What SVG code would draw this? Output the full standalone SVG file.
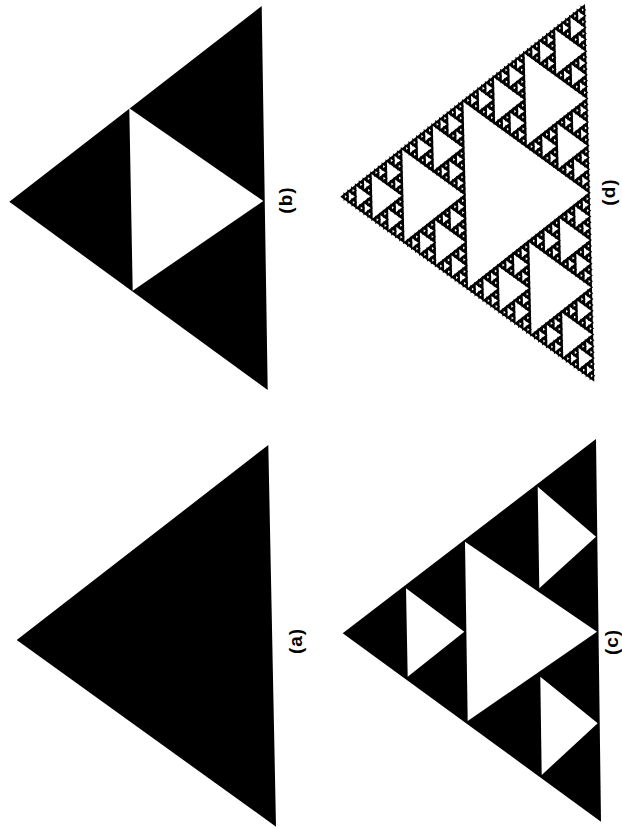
<svg xmlns="http://www.w3.org/2000/svg" width="622" height="829" viewBox="0 0 622 829">
<style>
.blk{fill:#000}
.wht{fill:#fff}
.hole{fill:#fff;stroke:#000;stroke-width:1.4;vector-effect:non-scaling-stroke;stroke-linejoin:miter}
.lbl{font-family:"Liberation Sans",Arial,sans-serif;font-weight:bold;font-size:19px;fill:#000;text-anchor:middle;dominant-baseline:central;letter-spacing:1px}
</style>
<defs>
<path id="h" class="hole" d="M.5 0L0 .5L.5 .5Z"/>
<g id="L2"><use href="#h"/><use href="#h" transform="scale(.5)"/><use href="#h" transform="translate(.5 0) scale(.5)"/><use href="#h" transform="translate(0 .5) scale(.5)"/></g>
<g id="L3"><use href="#h"/><use href="#L2" transform="scale(.5)"/><use href="#L2" transform="translate(.5 0) scale(.5)"/><use href="#L2" transform="translate(0 .5) scale(.5)"/></g>
<g id="L4"><use href="#h"/><use href="#L3" transform="scale(.5)"/><use href="#L3" transform="translate(.5 0) scale(.5)"/><use href="#L3" transform="translate(0 .5) scale(.5)"/></g>
<g id="L5"><use href="#h"/><use href="#L4" transform="scale(.5)"/><use href="#L4" transform="translate(.5 0) scale(.5)"/><use href="#L4" transform="translate(0 .5) scale(.5)"/></g>
<g id="L6"><use href="#h"/><use href="#L5" transform="scale(.5)"/><use href="#L5" transform="translate(.5 0) scale(.5)"/><use href="#L5" transform="translate(0 .5) scale(.5)"/></g>
</defs>
<rect width="622" height="829" fill="#fff"/>
<g id="panel-a">
<path class="blk" d="M16.7 640L268.3 445L276 826.7Z"/>
<text class="lbl" transform="translate(295 641) rotate(-90)">(a)</text>
</g>
<g id="panel-b">
<path class="blk" d="M9.3 201.7L261.7 6L267.7 390Z"/>
<path class="wht" d="M129.3 108.3L132.7 290.7L263.3 201Z"/>
<text class="lbl" transform="translate(285 200) rotate(-90)">(b)</text>
</g>
<g id="panel-c">
<path class="blk" d="M342.7 633.3L596 439L601 821.7Z"/>
<path class="wht" d="M465 541.7L467.7 721L597 631.7Z"/>
<path class="wht" d="M537.7 486.7L539.3 588.3L596 536.7Z"/>
<path class="wht" d="M406 588.3L407.7 676.7L464.3 631.7Z"/>
<path class="wht" d="M540.3 676.7L541.7 775L597.7 723.3Z"/>
<text class="lbl" transform="translate(611 642) rotate(-90)">(c)</text>
</g>
<g id="panel-d">
<path class="blk" d="M340.3 196.7L585 4L594.3 381.7Z"/>
<use href="#L6" transform="matrix(244.7 -192.7 254 185 340.3 196.7)"/>
<text class="lbl" transform="translate(608 192) rotate(-90)">(d)</text>
</g>
</svg>
